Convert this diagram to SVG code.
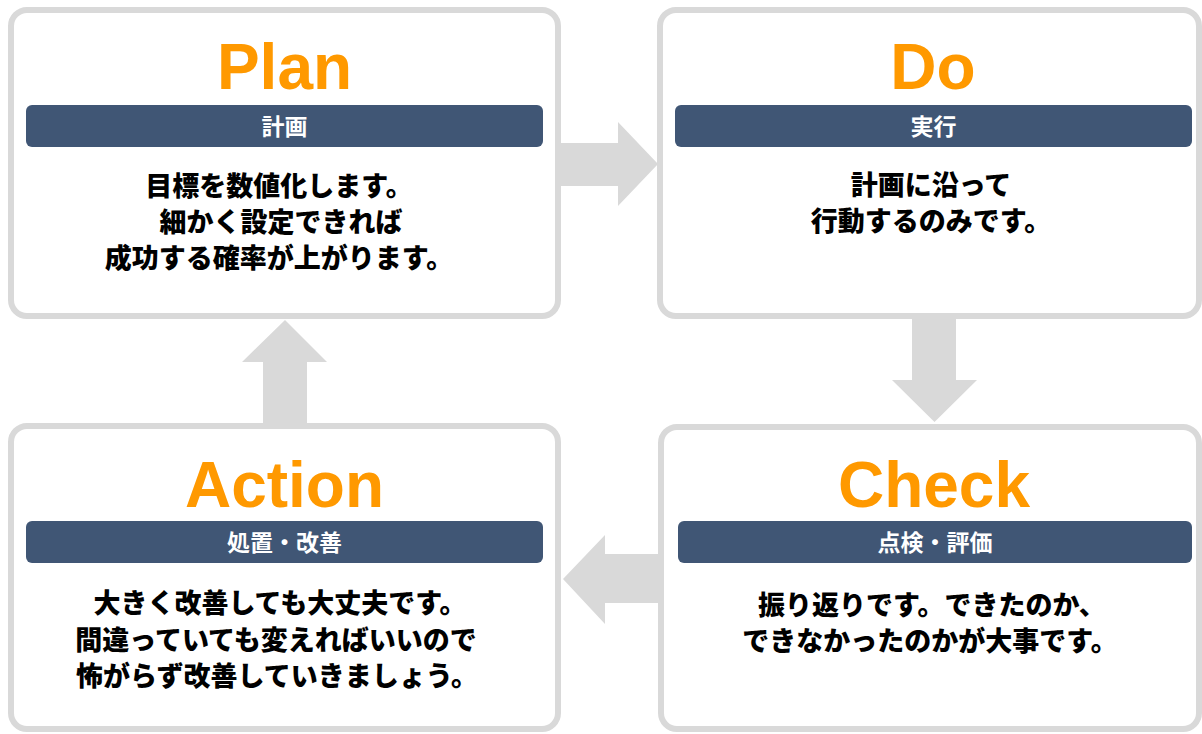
<svg xmlns="http://www.w3.org/2000/svg" width="1202" height="734" viewBox="0 0 1202 734">
<style>
.box{fill:#ffffff;stroke:#d9d9d9;stroke-width:6}
.bar{fill:#405675}
.title{font-family:"Liberation Sans",Arial,sans-serif;font-weight:bold;font-size:64px;fill:#ff9900;text-anchor:middle}
.sub{font-family:"Noto Sans CJK JP",sans-serif;font-weight:bold;font-size:23px;fill:#ffffff;text-anchor:middle}
.body{font-family:"Noto Sans CJK JP",sans-serif;font-weight:900;font-size:27px;fill:#000000;text-anchor:middle}
.arrow{fill:#d9d9d9}
</style>
<rect width="1202" height="734" fill="#ffffff"/>
<g id="connectors">
<polygon class="arrow" points="556,143 618,143 618,122 658,164 618,206 618,186 556,186"/>
<polygon class="arrow" points="912,314 956,314 956,380 977,380 934.5,422 892,380 912,380"/>
<polygon class="arrow" points="663,554 605,554 605,535 563,579 605,624 605,603 663,603"/>
<polygon class="arrow" points="263,429 263,362 242,362 285,320 327,362 307,362 307,429"/>
</g>
<g id="plan">
<rect class="box" x="11" y="10" width="547" height="306" rx="16"/>
<text class="title" x="284.5" y="89">Plan</text>
<rect class="bar" x="26" y="105" width="517" height="42" rx="6"/>
<text class="sub" x="284.5" y="134.5">計画</text>
<text class="body" x="279" y="195.5">目標を数値化します。</text>
<text class="body" x="281" y="231.5">細かく設定できれば</text>
<text class="body" x="279" y="267.5">成功する確率が上がります。</text>
</g>
<g id="do">
<rect class="box" x="660" y="10" width="539" height="306" rx="16"/>
<text class="title" x="933" y="89">Do</text>
<rect class="bar" x="675" y="105" width="517" height="42" rx="6"/>
<text class="sub" x="933.5" y="134.5">実行</text>
<text class="body" x="931" y="195">計画に沿って</text>
<text class="body" x="931" y="231">行動するのみです。</text>
</g>
<g id="check">
<rect class="box" x="661" y="427" width="538" height="302" rx="16"/>
<text class="title" x="934" y="507">Check</text>
<rect class="bar" x="678" y="521" width="514" height="42" rx="6"/>
<text class="sub" x="935" y="550.5">点検・評価</text>
<text class="body" x="932" y="614.5">振り返りです。できたのか、</text>
<text class="body" x="930" y="650.5">できなかったのかが大事です。</text>
</g>
<g id="action">
<rect class="box" x="11" y="426" width="547" height="303" rx="16"/>
<text class="title" x="284.5" y="507">Action</text>
<rect class="bar" x="26" y="521" width="517" height="42" rx="6"/>
<text class="sub" x="284.5" y="550.5">処置・改善</text>
<text class="body" x="280" y="613">大きく改善しても大丈夫です。</text>
<text class="body" x="276" y="650">間違っていても変えればいいので</text>
<text class="body" x="277" y="686">怖がらず改善していきましょう。</text>
</g>
</svg>
